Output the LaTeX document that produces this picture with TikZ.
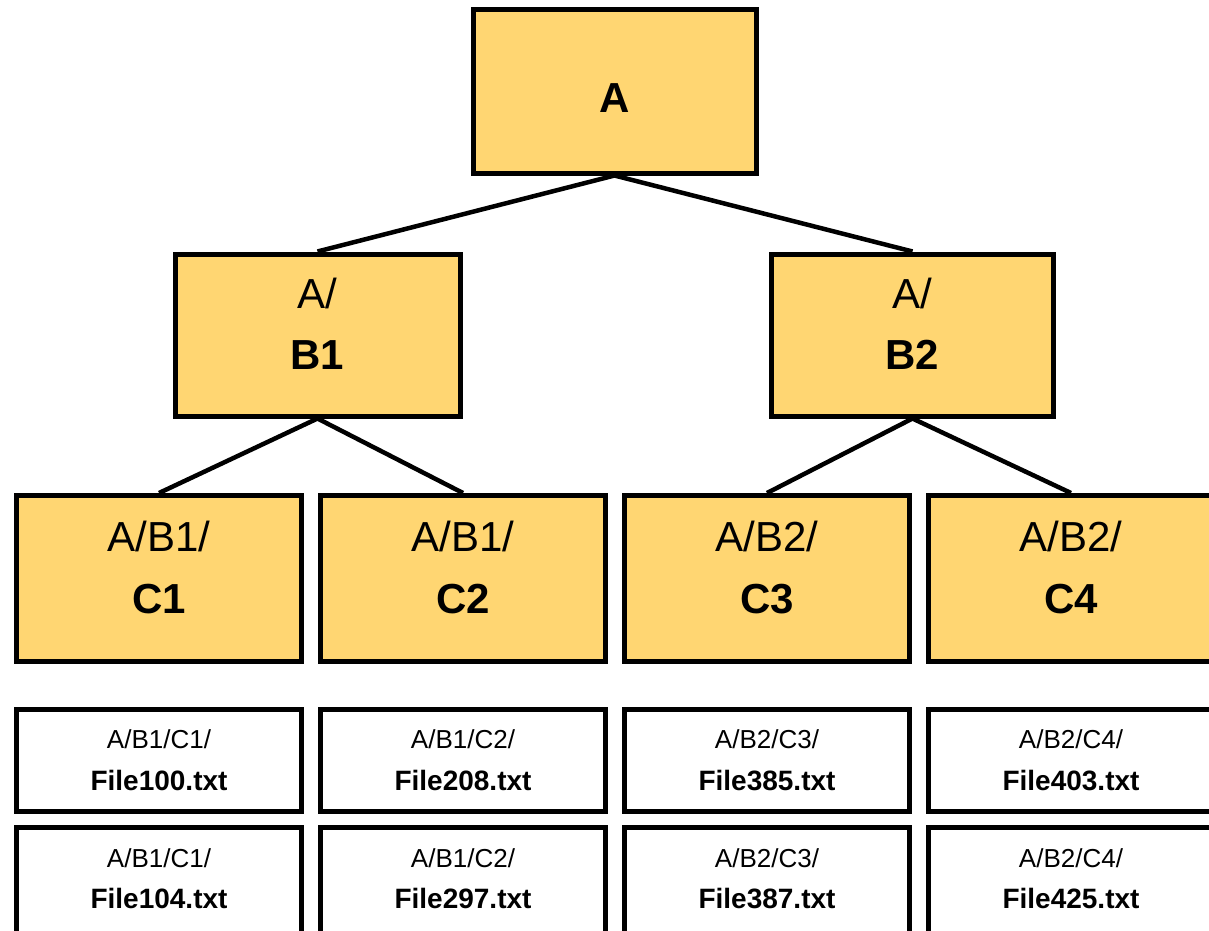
\documentclass[tikz,border=0pt]{standalone}
\usepackage{fontspec}
\setmainfont{Liberation Sans}
\definecolor{folder}{HTML}{FFD672}
\tikzset{
  box/.style={draw=black, line width=5pt, inner sep=0pt, minimum width=285pt},
  dirbox/.style={box, fill=folder, minimum height=164pt},
  filebox/.style={box, fill=white, minimum height=102pt},
  link/.style={draw=black, line width=4.5pt},
  % cap height of each size, so that a label's centre is the centre of its capitals
  lbl/.style={inner sep=0pt, text depth=0pt},
  bigreg/.style={lbl, text height=30pt, font=\fontsize{42}{50}\selectfont},
  bigbold/.style={lbl, text height=30pt, font=\fontsize{42}{50}\selectfont\bfseries},
  smallreg/.style={lbl, text height=18.6pt, font=\fontsize{26}{30}\selectfont},
  smallbold/.style={lbl, text height=20pt, font=\fontsize{28}{32}\selectfont\bfseries},
}
\begin{document}
\begin{tikzpicture}[x=1pt,y=-1pt]
\useasboundingbox (0,0) rectangle (1209,930);
\clip (0,0) rectangle (1209,930);

% folder hierarchy
\node[dirbox, minimum width=283pt] (a) at (614.5,91) {};
\node[dirbox, minimum height=162pt] (b1) at (317.5,335) {};
\node[dirbox, minimum height=162pt, minimum width=282pt] (b2) at (912.5,335) {};
\node[dirbox, minimum height=166pt] (c1) at (159,578.5) {};
\node[dirbox, minimum height=166pt] (c2) at (463,578.5) {};
\node[dirbox, minimum height=166pt] (c3) at (767,578.5) {};
\node[dirbox, minimum height=166pt] (c4) at (1071,578.5) {};

% links between folders
\draw[link] (a.south) -- (b1.north);
\draw[link] (a.south) -- (b2.north);
\draw[link] (b1.south) -- (c1.north);
\draw[link] (b1.south) -- (c2.north);
\draw[link] (b2.south) -- (c3.north);
\draw[link] (b2.south) -- (c4.north);

% folder labels (yshift is in page direction: positive is up)
\node[bigbold] (at) at ([yshift=-6pt]a.center) {A};
\node[bigreg] (b1t) at ([yshift=42pt]b1.center) {A/};
\node[bigbold] (b1n) at ([yshift=-19pt]b1.center) {B1};
\node[bigreg] (b2t) at ([yshift=42pt]b2.center) {A/};
\node[bigbold] (b2n) at ([yshift=-19pt]b2.center) {B2};
\node[bigreg] (c1t) at ([yshift=42.5pt]c1.center) {A/B1/};
\node[bigbold] (c1n) at ([yshift=-19.5pt]c1.center) {C1};
\node[bigreg] (c2t) at ([yshift=42.5pt]c2.center) {A/B1/};
\node[bigbold] (c2n) at ([yshift=-19.5pt]c2.center) {C2};
\node[bigreg] (c3t) at ([yshift=42.5pt]c3.center) {A/B2/};
\node[bigbold] (c3n) at ([yshift=-19.5pt]c3.center) {C3};
\node[bigreg] (c4t) at ([yshift=42.5pt]c4.center) {A/B2/};
\node[bigbold] (c4n) at ([yshift=-19.5pt]c4.center) {C4};

% files: first row
\foreach \n/\x/\dir/\file in {
  f1a/159/A\slash B1\slash C1\slash/File100.txt,
  f2a/463/A\slash B1\slash C2\slash/File208.txt,
  f3a/767/A\slash B2\slash C3\slash/File385.txt,
  f4a/1071/A\slash B2\slash C4\slash/File403.txt}{
  \node[filebox] (\n) at (\x,760.5) {};
  \node[smallreg] (\n-dir) at ([yshift=21pt]\n.center) {\dir};
  \node[smallbold] (\n-name) at ([yshift=-20pt]\n.center) {\file};
}
% files: second row, running past the lower edge
\foreach \n/\x/\dir/\file in {
  f1b/159/A\slash B1\slash C1\slash/File104.txt,
  f2b/463/A\slash B1\slash C2\slash/File297.txt,
  f3b/767/A\slash B2\slash C3\slash/File387.txt,
  f4b/1071/A\slash B2\slash C4\slash/File425.txt}{
  \node[filebox, minimum height=112pt] (\n) at (\x,883.5) {};
  \node[smallreg] (\n-dir) at ([yshift=25.5pt]\n.center) {\dir};
  \node[smallbold] (\n-name) at ([yshift=-14.5pt]\n.center) {\file};
}
\end{tikzpicture}
\end{document}
